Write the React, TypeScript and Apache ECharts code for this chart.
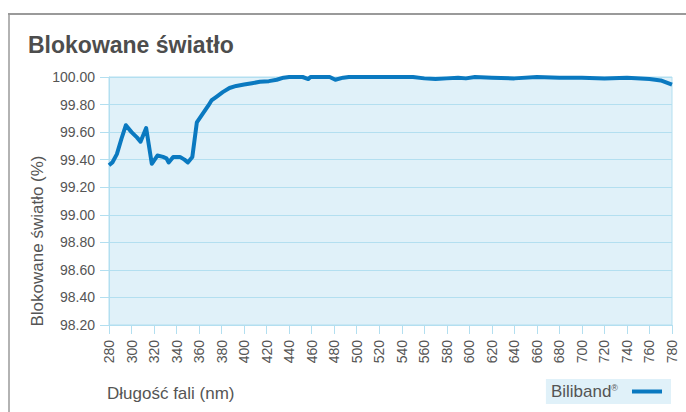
import React, { useEffect, useRef } from "react";
import * as echarts from "echarts";

const wavelengths = [
  280, 283, 287, 291, 295, 300, 305, 308, 313, 318, 323, 328, 331, 333, 337, 343, 347, 350, 354, 358,
  363, 368, 371, 376, 381, 387, 393, 400, 407, 414, 422, 429, 435, 440, 452, 457, 459, 476, 481, 488,
  493, 550, 560, 570, 580, 590, 597, 605, 620, 640, 660, 680, 700, 720, 740, 760, 770, 780,
];
const blocked = [
  99.36, 99.38, 99.44, 99.55, 99.65, 99.6, 99.56, 99.53, 99.63, 99.37, 99.43, 99.42, 99.41, 99.38, 99.42, 99.42, 99.4, 99.38, 99.42, 99.67,
  99.73, 99.79, 99.83, 99.86, 99.89, 99.92, 99.935, 99.945, 99.955, 99.965, 99.97, 99.98, 99.995, 100.0, 100.0, 99.985, 100.0, 100.0, 99.98, 99.995,
  100.0, 100.0, 99.99, 99.985, 99.99, 99.995, 99.99, 100.0, 99.995, 99.99, 100.0, 99.995, 99.995, 99.99, 99.995, 99.985, 99.975, 99.945,
];
const seriesName = "Biliband";
const titleText = "Blokowane światło";
const yAxisTitle = "Blokowane światło (%)";
const xAxisTitle = "Długość fali (nm)";

export default function App() {
  const ref = useRef<HTMLDivElement>(null);
  useEffect(() => {
    if (!ref.current) return;
    const chart = echarts.init(ref.current, undefined, { renderer: "svg" });
    const font = "'Liberation Sans', Arial, sans-serif";
    const labelColor = "#555555";
    const lineBlue = "#b3dff0";
    chart.setOption({
      animation: false,
      textStyle: { fontFamily: font },
      title: {
        text: titleText,
        left: 23,
        top: 28,
        textStyle: { fontSize: 23, fontWeight: "bold", color: "#4d4d4d", fontFamily: font },
      },
      grid: {
        left: 109,
        right: 14,
        top: 77,
        bottom: 87,
        show: true,
        backgroundColor: "#e0f1f9",
        borderColor: lineBlue,
        borderWidth: 1,
      },
      xAxis: {
        type: "value",
        min: 280,
        max: 780,
        interval: 20,
        axisLine: { show: true, lineStyle: { color: lineBlue, width: 1 } },
        axisTick: { show: true, length: 9, lineStyle: { color: lineBlue, width: 1 } },
        splitLine: { show: false },
        axisLabel: {
          rotate: 90,
          margin: 15,
          fontSize: 14,
          color: labelColor,
          fontFamily: font,
          showMinLabel: true,
          showMaxLabel: true,
        },
      },
      yAxis: {
        type: "value",
        min: 98.2,
        max: 100,
        interval: 0.2,
        axisLine: { show: true, lineStyle: { color: lineBlue, width: 1 } },
        axisTick: { show: true, length: 9, lineStyle: { color: lineBlue, width: 1 } },
        splitLine: { show: true, lineStyle: { color: lineBlue, width: 1 } },
        axisLabel: {
          margin: 14,
          fontSize: 14,
          color: labelColor,
          fontFamily: font,
          formatter: (v: number) => v.toFixed(2),
        },
      },
      legend: {
        right: 15,
        bottom: 8,
        align: "right",
        icon: "rect",
        itemWidth: 30,
        itemHeight: 4,
        itemGap: 10,
        padding: [4, 9, 4, 5],
        backgroundColor: "#e0f1f9",
        data: [seriesName],
        formatter: (n: string) => `{a|${n}}{s|®}`,
        textStyle: {
          color: labelColor,
          fontFamily: font,
          rich: {
            a: { fontSize: 17, color: labelColor, fontFamily: font },
            s: { fontSize: 9, color: labelColor, fontFamily: font, verticalAlign: "top", padding: [0, 9, 8, 0] },
          },
        },
      },
      graphic: [
        {
          type: "line",
          shape: { x1: 8, y1: 14, x2: 686, y2: 14 },
          style: { stroke: "#9a9a9a", lineWidth: 2 },
        },
        {
          type: "line",
          shape: { x1: 9, y1: 14, x2: 9, y2: 412 },
          style: { stroke: "#9a9a9a", lineWidth: 1.5 },
        },
        {
          type: "text",
          x: 37,
          y: 241,
          rotation: Math.PI / 2,
          style: {
            text: yAxisTitle,
            fontSize: 17,
            fill: labelColor,
            fontFamily: font,
            align: "center",
            verticalAlign: "middle",
          },
        },
        {
          type: "text",
          x: 107,
          y: 393,
          style: {
            text: xAxisTitle,
            fontSize: 17,
            fill: labelColor,
            fontFamily: font,
            align: "left",
            verticalAlign: "middle",
          },
        },
      ],
      series: [
        {
          name: seriesName,
          type: "line",
          data: wavelengths.map((w, i) => [w, blocked[i]]),
          showSymbol: false,
          symbol: "none",
          clip: false,
          lineStyle: { color: "#0a79c0", width: 4, join: "round" },
          itemStyle: { color: "#0a79c0" },
        },
      ],
    });
    return () => chart.dispose();
  }, []);
  return <div ref={ref} style={{ width: 686, height: 412, position: "absolute", left: 0, top: 0 }} />;
}
